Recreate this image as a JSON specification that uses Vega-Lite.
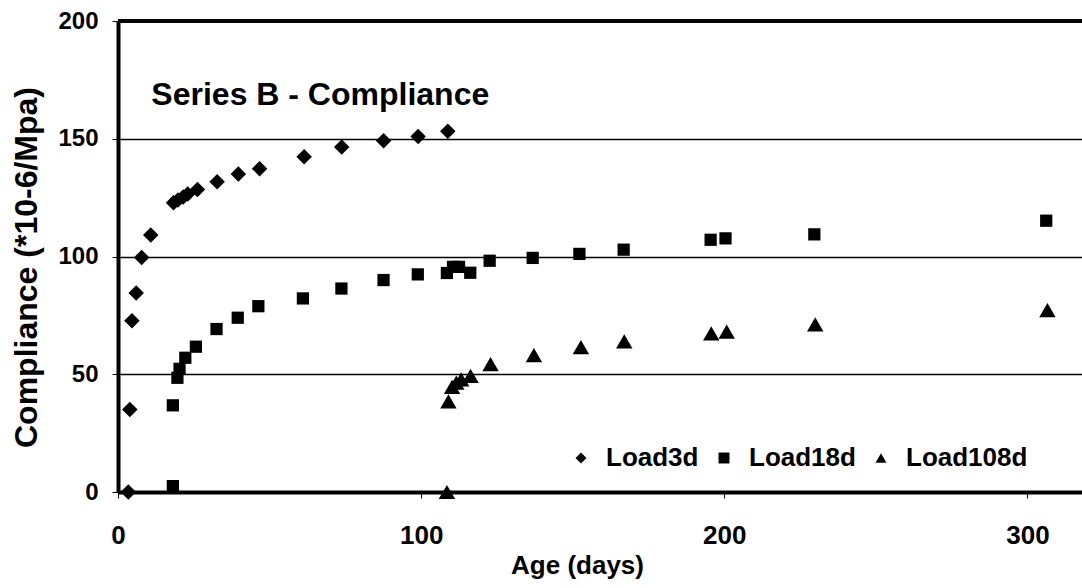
{
  "$schema": "https://vega.github.io/schema/vega-lite/v6.json",
  "autosize": {"type": "none"},
  "padding": {"left": 118, "top": 21, "right": 0, "bottom": 96},
  "width": 964,
  "height": 471,
  "background": "white",
  "config": {
    "view": {"stroke": null},
    "font": "Liberation Sans"
  },
  "datasets": {
    "pts": [
      {"series": "Load3d", "age": 3.4, "c": 0},
      {"series": "Load3d", "age": 3.9, "c": 35},
      {"series": "Load3d", "age": 4.6, "c": 72.7},
      {"series": "Load3d", "age": 6, "c": 84.5},
      {"series": "Load3d", "age": 7.8, "c": 99.6},
      {"series": "Load3d", "age": 10.8, "c": 109.1},
      {"series": "Load3d", "age": 18.3, "c": 122.8},
      {"series": "Load3d", "age": 19.8, "c": 124},
      {"series": "Load3d", "age": 21.5, "c": 125.3},
      {"series": "Load3d", "age": 23, "c": 126.5},
      {"series": "Load3d", "age": 26.2, "c": 128.5},
      {"series": "Load3d", "age": 32.7, "c": 131.7},
      {"series": "Load3d", "age": 39.7, "c": 135},
      {"series": "Load3d", "age": 46.7, "c": 137.3},
      {"series": "Load3d", "age": 61.4, "c": 142.4},
      {"series": "Load3d", "age": 73.8, "c": 146.5},
      {"series": "Load3d", "age": 87.6, "c": 149.1},
      {"series": "Load3d", "age": 99, "c": 151},
      {"series": "Load3d", "age": 108.8, "c": 153.2},
      {"series": "Load18d", "age": 18.1, "c": 2.5},
      {"series": "Load18d", "age": 18.1, "c": 36.8},
      {"series": "Load18d", "age": 19.6, "c": 48.5},
      {"series": "Load18d", "age": 20.3, "c": 52.3},
      {"series": "Load18d", "age": 22.2, "c": 57},
      {"series": "Load18d", "age": 25.7, "c": 61.7},
      {"series": "Load18d", "age": 32.5, "c": 69.2},
      {"series": "Load18d", "age": 39.5, "c": 74},
      {"series": "Load18d", "age": 46.3, "c": 78.9},
      {"series": "Load18d", "age": 61, "c": 82.2},
      {"series": "Load18d", "age": 73.7, "c": 86.4},
      {"series": "Load18d", "age": 87.6, "c": 90},
      {"series": "Load18d", "age": 98.9, "c": 92.4},
      {"series": "Load18d", "age": 108.5, "c": 93},
      {"series": "Load18d", "age": 110.5, "c": 95.6},
      {"series": "Load18d", "age": 112.5, "c": 95.6},
      {"series": "Load18d", "age": 116.2, "c": 93.1},
      {"series": "Load18d", "age": 122.6, "c": 98.2},
      {"series": "Load18d", "age": 136.8, "c": 99.4},
      {"series": "Load18d", "age": 152.2, "c": 101.1},
      {"series": "Load18d", "age": 166.8, "c": 102.9},
      {"series": "Load18d", "age": 195.5, "c": 107.1},
      {"series": "Load18d", "age": 200.4, "c": 107.7},
      {"series": "Load18d", "age": 229.7, "c": 109.4},
      {"series": "Load18d", "age": 306.2, "c": 115.2},
      {"series": "Load108d", "age": 108.5, "c": 0},
      {"series": "Load108d", "age": 109, "c": 38.5},
      {"series": "Load108d", "age": 110.2, "c": 44.6},
      {"series": "Load108d", "age": 111.6, "c": 46.4},
      {"series": "Load108d", "age": 113.2, "c": 47.8},
      {"series": "Load108d", "age": 116.3, "c": 49.3},
      {"series": "Load108d", "age": 122.9, "c": 54.3},
      {"series": "Load108d", "age": 137.2, "c": 58.1},
      {"series": "Load108d", "age": 152.7, "c": 61.5},
      {"series": "Load108d", "age": 167, "c": 64},
      {"series": "Load108d", "age": 195.7, "c": 67.4},
      {"series": "Load108d", "age": 200.8, "c": 68.1},
      {"series": "Load108d", "age": 230, "c": 71.2},
      {"series": "Load108d", "age": 306.6, "c": 77.2}
    ]
  },
  "layer": [
    {
      "data": {"name": "pts"},
      "encoding": {
        "x": {
          "field": "age", "type": "quantitative",
          "scale": {"domain": [0, 318], "nice": false, "zero": true},
          "axis": {
            "title": "Age (days)",
            "values": [0, 100, 200, 300],
            "grid": false,
            "domainColor": "black", "domainWidth": 4,
            "tickColor": "black", "tickWidth": 1, "tickSize": 6,
            "labelFont": "Liberation Sans", "labelFontSize": 26, "labelFontWeight": "bold", "labelColor": "black",
            "labelPadding": 24, "labelFlush": false,
            "titleFont": "Liberation Sans", "titleFontSize": 26, "titleFontWeight": "bold", "titleColor": "black",
            "titlePadding": 4, "titleX": 459
          }
        },
        "y": {
          "field": "c", "type": "quantitative",
          "scale": {"domain": [0, 200], "nice": false},
          "axis": {
            "title": "Compliance (*10-6/Mpa)",
            "values": [0, 50, 100, 150, 200],
            "grid": true, "gridColor": "black", "gridWidth": 1.3, "gridOpacity": 1,
            "domainColor": "black", "domainWidth": 4,
            "tickColor": "black", "tickWidth": 1, "tickSize": 6,
            "labelFont": "Liberation Sans", "labelFontSize": 24, "labelFontWeight": "bold", "labelColor": "black",
            "labelPadding": 14, "labelFlush": false,
            "titleFont": "Liberation Sans", "titleFontSize": 32, "titleFontWeight": "bold", "titleColor": "black",
            "titlePadding": 14, "titleY": 246
          }
        },
        "shape": {
          "field": "series", "type": "nominal",
          "scale": {"domain": ["Load3d", "Load18d", "Load108d"], "range": ["diamond", "square", "triangle-up"]},
          "legend": {
            "title": null,
            "orient": "none", "legendX": 450, "legendY": 424,
            "direction": "horizontal",
            "symbolSize": 120, "symbolFillColor": "black", "symbolStrokeColor": "black", "symbolStrokeWidth": 0,
            "labelFont": "Liberation Sans", "labelFontSize": 26, "labelFontWeight": "bold", "labelColor": "black",
            "labelOffset": 12, "columnPadding": 12
          }
        }
      },
      "layer": [
        {
          "transform": [{"filter": "datum.series === 'Load3d'"}],
          "mark": {"type": "point", "filled": true, "color": "black", "opacity": 1, "size": 240}
        },
        {
          "transform": [{"filter": "datum.series === 'Load18d'"}],
          "mark": {"type": "point", "filled": true, "color": "black", "opacity": 1, "size": 150}
        },
        {
          "transform": [{"filter": "datum.series === 'Load108d'"}],
          "mark": {"type": "point", "filled": true, "color": "black", "opacity": 1, "size": 270}
        }
      ]
    },
    {
      "data": {"values": [{}]},
      "mark": {"type": "rule", "color": "black", "strokeWidth": 4},
      "encoding": {"y": {"datum": 200}}
    },
    {
      "data": {"values": [{}]},
      "mark": {"type": "text", "align": "left", "baseline": "middle", "font": "Liberation Sans", "fontSize": 32, "fontWeight": "bold", "color": "black"},
      "encoding": {"x": {"datum": 11}, "y": {"datum": 168.6}, "text": {"value": "Series B - Compliance"}}
    }
  ]
}
